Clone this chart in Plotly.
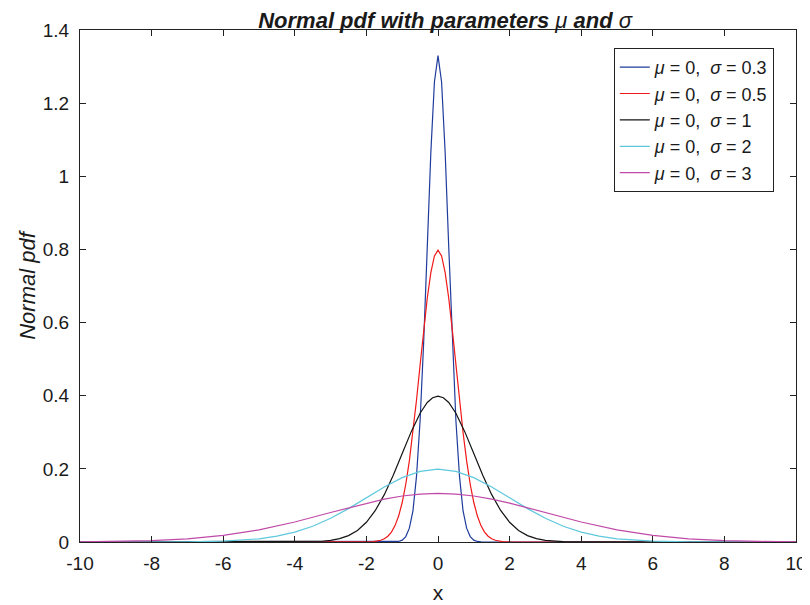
import plotly.graph_objects as go

# sigma = 0.3
x_s03 = [-10, -1.5, -1.2, -1.1, -1.0, -0.9, -0.8, -0.7, -0.6, -0.5, -0.4, -0.3, -0.2, -0.1, 0.0,
         0.1, 0.2, 0.3, 0.4, 0.5, 0.6, 0.7, 0.8, 0.9, 1.0, 1.1, 1.2, 1.5, 10]
y_s03 = [0, 0.0000, 0.0004, 0.0015, 0.0051, 0.0148, 0.0379, 0.0849, 0.1800, 0.3320, 0.5467, 0.8066, 1.0648, 1.2579, 1.3298,
         1.2579, 1.0648, 0.8066, 0.5467, 0.3320, 0.1800, 0.0849, 0.0379, 0.0148, 0.0051, 0.0015, 0.0004, 0.0000, 0]

# sigma = 0.5
x_s05 = [-10, -2.2, -2.0, -1.8, -1.6, -1.5, -1.4, -1.3, -1.2, -1.1, -1.0, -0.9, -0.8, -0.7, -0.6, -0.5, -0.4, -0.3, -0.2, -0.1, 0.0,
         0.1, 0.2, 0.3, 0.4, 0.5, 0.6, 0.7, 0.8, 0.9, 1.0, 1.1, 1.2, 1.3, 1.4, 1.5, 1.6, 1.8, 2.0, 2.2, 10]
y_s05 = [0, 0.0000, 0.0003, 0.0012, 0.0048, 0.0089, 0.0158, 0.0271, 0.0448, 0.0710, 0.1080, 0.1579, 0.2218, 0.2995, 0.3884, 0.4839, 0.5794, 0.6664, 0.7365, 0.7821, 0.7979,
         0.7821, 0.7365, 0.6664, 0.5794, 0.4839, 0.3884, 0.2995, 0.2218, 0.1579, 0.1080, 0.0710, 0.0448, 0.0271, 0.0158, 0.0089, 0.0048, 0.0012, 0.0003, 0.0000, 0]

# sigma = 1
x_s1 = [-10, -4.5, -4.0, -3.5, -3.25, -3.0, -2.75, -2.5, -2.25, -2.0, -1.75, -1.5, -1.25, -1.0, -0.75, -0.5, -0.3, -0.15, 0.0,
        0.15, 0.3, 0.5, 0.75, 1.0, 1.25, 1.5, 1.75, 2.0, 2.25, 2.5, 2.75, 3.0, 3.25, 3.5, 4.0, 4.5, 10]
y_s1 = [0, 0.0000, 0.0001, 0.0009, 0.0020, 0.0044, 0.0091, 0.0175, 0.0317, 0.0540, 0.0863, 0.1295, 0.1826, 0.2420, 0.3011, 0.3521, 0.3814, 0.3945, 0.3989,
        0.3945, 0.3814, 0.3521, 0.3011, 0.2420, 0.1826, 0.1295, 0.0863, 0.0540, 0.0317, 0.0175, 0.0091, 0.0044, 0.0020, 0.0009, 0.0001, 0.0000, 0]

# sigma = 2
x_s2 = [-10, -9, -8, -7, -6, -5.5, -5, -4.5, -4, -3.5, -3, -2.5, -2, -1.5, -1, -0.5, 0,
        0.5, 1, 1.5, 2, 2.5, 3, 3.5, 4, 4.5, 5, 5.5, 6, 7, 8, 9, 10]
y_s2 = [0.0000, 0.0000, 0.0001, 0.0004, 0.0022, 0.0045, 0.0088, 0.0159, 0.0270, 0.0431, 0.0648, 0.0913, 0.1210, 0.1506, 0.1760, 0.1933, 0.1995,
        0.1933, 0.1760, 0.1506, 0.1210, 0.0913, 0.0648, 0.0431, 0.0270, 0.0159, 0.0088, 0.0045, 0.0022, 0.0004, 0.0001, 0.0000, 0.0000]

# sigma = 3
x_s3 = [-10, -9, -8, -7, -6, -5, -4, -3, -2, -1.5, -1, -0.5, 0,
        0.5, 1, 1.5, 2, 3, 4, 5, 6, 7, 8, 9, 10]
y_s3 = [0.0005, 0.0015, 0.0038, 0.0088, 0.0180, 0.0332, 0.0547, 0.0807, 0.1065, 0.1174, 0.1258, 0.1311, 0.1330,
        0.1311, 0.1258, 0.1174, 0.1065, 0.0807, 0.0547, 0.0332, 0.0180, 0.0088, 0.0038, 0.0015, 0.0005]

series = [
    (x_s03, y_s03, "0.3", "#1f3c9c"),
    (x_s05, y_s05, "0.5", "#f01818"),
    (x_s1, y_s1, "1", "#141414"),
    (x_s2, y_s2, "2", "#5ec8dc"),
    (x_s3, y_s3, "3", "#c04aa8"),
]

x_ticks = list(range(-10, 11, 2))
x_tick_text = ["-10", "-8", "-6", "-4", "-2", "0", "2", "4", "6", "8", "10"]
y_ticks = [0, 0.2, 0.4, 0.6, 0.8, 1, 1.2, 1.4]
y_tick_text = ["0", "0.2", "0.4", "0.6", "0.8", "1", "1.2", "1.4"]

FONT = "Liberation Sans, Arial, sans-serif"

fig = go.Figure()
for xs, ys, s, c in series:
    fig.add_trace(go.Scatter(
        x=xs, y=ys, mode="lines", line=dict(color=c, width=1.2),
        name=f"<i>μ</i> = 0,  <i>σ</i> = {s}",
    ))

axis_common = dict(
    showline=True, linecolor="#222", linewidth=1.3, mirror="ticks",
    ticks="inside", ticklen=6, tickwidth=1.3, tickcolor="#222",
    showgrid=False, zeroline=False, automargin=False,
    tickfont=dict(family=FONT, size=19, color="#1a1a1a"),
)

# page body adds an 8px offset, so the figure is 8px smaller and margins shifted
fig.update_layout(
    width=802, height=597,
    paper_bgcolor="white", plot_bgcolor="white",
    margin=dict(l=72, r=14, t=22, b=63),
    title=dict(
        text="<b><i>Normal pdf with parameters </i></b><i>μ</i><b><i> and </i></b><i>σ</i>",
        x=0.545, xanchor="center", y=0.993, yanchor="top",
        font=dict(family=FONT, size=22, color="#1a1a1a"),
    ),
    xaxis=dict(axis_common, range=[-10, 10], tickvals=x_ticks, ticktext=x_tick_text,
               ticklabelstandoff=4,
               title=dict(text="x", font=dict(family=FONT, size=21, color="#1a1a1a"), standoff=12)),
    yaxis=dict(axis_common, range=[0, 1.4], tickvals=y_ticks, ticktext=y_tick_text,
               ticklabelstandoff=6,
               title=dict(text="<i>Normal pdf</i>", font=dict(family=FONT, size=22, color="#1a1a1a"), standoff=0)),
    legend=dict(
        x=0.969, xanchor="right", y=0.965, yanchor="top",
        bgcolor="white", bordercolor="#222", borderwidth=1,
        font=dict(family=FONT, size=18, color="#1a1a1a"),
        tracegroupgap=0,
    ),
    showlegend=True,
)

fig.write_html("out.html")
